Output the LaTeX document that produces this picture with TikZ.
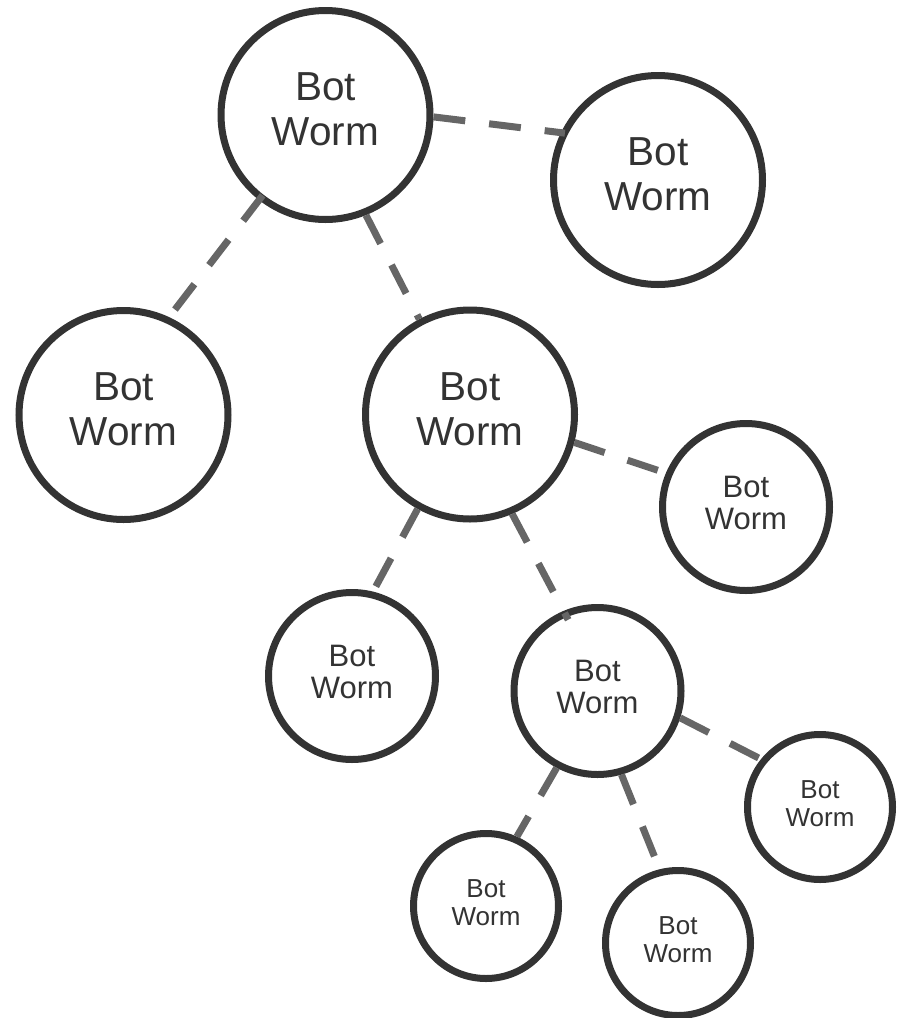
\documentclass[tikz,border=0pt]{standalone}
\usepackage{fontspec}
\setmainfont{Liberation Sans}
\definecolor{ring}{HTML}{333333}
\definecolor{link}{HTML}{666666}
\begin{document}
\begin{tikzpicture}[x=1pt,y=-1pt,
  worm/.style={circle, draw=ring, line width=7pt, fill=white, text=ring,
    align=center, inner sep=0pt},
  bigworm/.style={worm, minimum size=209pt, text depth=11pt,
    font=\fontsize{40.5}{45}\selectfont},
  midworm/.style={worm, minimum size=167pt, text depth=8.4pt,
    font=\fontsize{31}{32}\selectfont},
  smallworm/.style={worm, minimum size=145pt, text depth=7pt,
    font=\fontsize{26}{28}\selectfont},
  wormlink/.style={draw=link, line width=7pt, dash pattern=on 32pt off 24pt}]
\useasboundingbox (0,0) rectangle (901,1018);

% the worm nodes
\node[bigworm]   (c1)  at (325.5,115) {Bot\\Worm};
\node[bigworm]   (c2)  at (658,180)   {Bot\\Worm};
\node[bigworm]   (c3)  at (123.5,415) {Bot\\Worm};
\node[bigworm]   (c4)  at (470,414.5) {Bot\\Worm};
\node[midworm]   (c5)  at (746,507)   {Bot\\Worm};
\node[midworm]   (c6)  at (352,676)   {Bot\\Worm};
\node[midworm]   (c7)  at (597.5,691) {Bot\\Worm};
\node[smallworm] (c8)  at (820,807)   {Bot\\Worm};
\node[smallworm] (c9)  at (486,906)   {Bot\\Worm};
\node[smallworm] (c10) at (678,943)   {Bot\\Worm};

% dashed links, drawn over the rings
\draw[wormlink, shorten >=-4pt] (c1.-1) -- (c2.154);
\draw[wormlink, shorten <=-6pt] (c1.232) -- (c3.65);
\draw[wormlink] (c1.-68) -- (c4.118);
\draw[wormlink] (c4.-15) -- (c5.157);
\draw[wormlink] (c4.241) -- (c6.76);
\draw[wormlink, shorten >=-10pt] (c4.-67) -- (c7.113);
\draw[wormlink] (c7.-18) -- (c8.141);
\draw[wormlink] (c7.242) -- (c9.66);
\draw[wormlink] (c7.-74) -- (c10.104);
\end{tikzpicture}
\end{document}
